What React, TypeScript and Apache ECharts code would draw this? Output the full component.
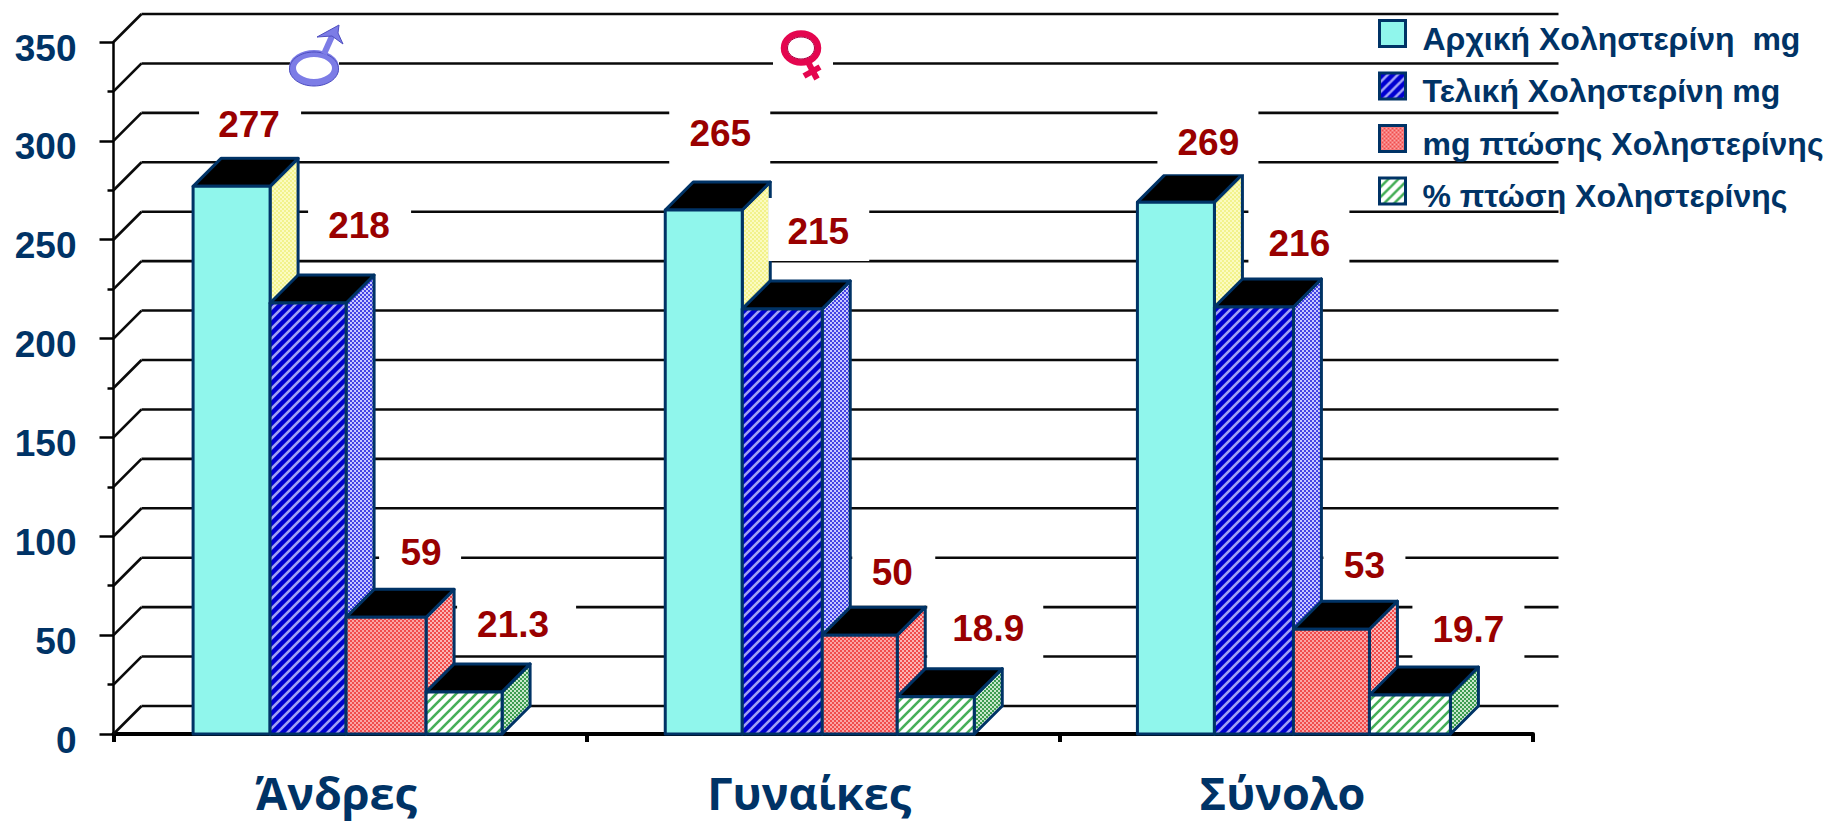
import React, { useEffect, useRef } from "react";
import * as echarts from "echarts";

// Values per group, in the order of the category axis
const categories = ["Άνδρες", "Γυναίκες", "Σύνολο"];
const initialCholesterol = [277, 265, 269];
const finalCholesterol = [218, 215, 216];
const dropMg = [59, 50, 53];
const dropPercent = [21.3, 18.9, 19.7];
const seriesNames = [
  "Αρχική Χοληστερίνη  mg",
  "Τελική Χοληστερίνη mg",
  "mg πτώσης Χοληστερίνης",
  "% πτώση Χοληστερίνης",
];
const wallLevels = [0, 25, 50, 75, 100, 125, 150, 175, 200, 225, 250, 275, 300, 325, 350];

// Bar edges relative to each band centre
const barEdges = [
  [-157, -80, -4, 76, 152],
  [-158, -81, -1, 74, 151],
  [-159, -82, -3, 73, 154],
];
// Value labels: dx from band centre, dy from bar top, white box width, box up, box down, box dx
const labelLayout = [
  [[-101, -62, 102, 32, 32, 1], [9, -77, 103, 32, 32, 0.5], [71, -65, 82, 32, 32, -1], [163, -67, 119, 32, 30, 3.5]],
  [[-103, -77, 101, 32, 33, -0.5], [-5, -77, 101, 34, 29, 0.5], [69, -63, 83, 32, 32, 1.5], [165, -68, 116, 32, 33, -3]],
  [[-88, -60, 101, 32, 32, -0.5], [3, -63, 101, 34, 21, -0.5], [68, -64, 82, 32, 32, 0], [172, -66, 112, 33, 33, 0]],
];

const DEPTH = 28;
const WALL_WIDTH = 1417;
const NAVY = "#003366";
const EDGE_WIDTH = 3;

function tile(size: number, draw: (c: CanvasRenderingContext2D) => void) {
  const canvas = document.createElement("canvas");
  canvas.width = size;
  canvas.height = size;
  draw(canvas.getContext("2d") as CanvasRenderingContext2D);
  return { image: canvas, repeat: "repeat" } as any;
}

function dotted(base: string, dot: string) {
  return tile(4, (c) => {
    c.fillStyle = base;
    c.fillRect(0, 0, 4, 4);
    c.fillStyle = dot;
    c.fillRect(0, 0, 2, 2);
    c.fillRect(2, 2, 2, 2);
  });
}

function hatched(base: string, stripe: string) {
  return tile(10, (c) => {
    c.fillStyle = base;
    c.fillRect(0, 0, 10, 10);
    c.strokeStyle = stripe;
    c.lineWidth = 2.6;
    for (const o of [-10, 0, 10, 20]) {
      c.beginPath();
      c.moveTo(o - 2, 12);
      c.lineTo(o + 12, -2);
      c.stroke();
    }
  });
}

function App() {
  const ref = useRef<HTMLDivElement>(null);

  useEffect(() => {
    const chart = echarts.init(ref.current as HTMLDivElement, undefined, { renderer: "svg" });

    const fronts = [
      "#90F6EC",
      hatched("#0000D0", "#A0A0F4"),
      dotted("#F04C4C", "#FBA4A4"),
      hatched("#FFFFFF", "#46AE58"),
    ];
    const sides = [
      dotted("#F2F28C", "#FBFBC0"),
      dotted("#4444E4", "#C8C8FF"),
      dotted("#F04C4C", "#FBB4B4"),
      dotted("#3C9C50", "#C8E8CC"),
    ];
    const seriesValues = [initialCholesterol, finalCholesterol, dropMg, dropPercent];

    const barSeries = seriesValues.map((values, s) => ({
      type: "custom",
      name: seriesNames[s],
      coordinateSystem: "cartesian2d",
      z: 3,
      itemStyle: { color: fronts[s] },
      encode: { x: 0, y: 1 },
      data: values.map((v, i) => [i, v]),
      renderItem: (_p: any, api: any) => {
        const cat = api.value(0);
        const top = api.coord([cat, api.value(1)]);
        const base = api.coord([cat, 0]);
        const x0 = top[0] + barEdges[cat][s];
        const x1 = top[0] + barEdges[cat][s + 1];
        const edge = { stroke: NAVY, lineWidth: EDGE_WIDTH, lineJoin: "round" };
        return {
          type: "group",
          children: [
            {
              type: "polygon",
              shape: { points: [[x1, top[1]], [x1 + DEPTH, top[1] - DEPTH], [x1 + DEPTH, base[1] - DEPTH], [x1, base[1]]] },
              style: { fill: sides[s], ...edge },
            },
            {
              type: "polygon",
              shape: { points: [[x0, top[1]], [x0 + DEPTH, top[1] - DEPTH], [x1 + DEPTH, top[1] - DEPTH], [x1, top[1]]] },
              style: { fill: "#000000", ...edge },
            },
            {
              type: "rect",
              shape: { x: x0, y: top[1], width: x1 - x0, height: base[1] - top[1] },
              style: { fill: fronts[s], ...edge },
            },
          ],
        };
      },
    }));

    // Value labels sit on white boxes that interrupt the wall lines
    const labelData: number[][] = [];
    seriesValues.forEach((values, s) => values.forEach((v, i) => labelData.push([i, v, s])));
    const labelSeries = {
      type: "custom",
      coordinateSystem: "cartesian2d",
      z: 4,
      silent: true,
      encode: { x: 0, y: 1 },
      data: labelData,
      renderItem: (_p: any, api: any) => {
        const cat = api.value(0);
        const value = api.value(1);
        const s = api.value(2);
        const [dx, dy, w, up, down, boxDx] = labelLayout[cat][s];
        const top = api.coord([cat, value]);
        const cx = top[0] + dx;
        const cy = top[1] + dy;
        return {
          type: "group",
          children: [
            {
              type: "rect",
              shape: { x: cx + boxDx - w / 2, y: cy - up, width: w, height: up + down },
              style: { fill: "#FFFFFF" },
            },
            {
              type: "text",
              style: {
                x: cx,
                y: cy,
                text: String(value),
                align: "center",
                verticalAlign: "middle",
                fill: "#990000",
                font: 'bold 37px "Liberation Sans"',
              },
            },
          ],
        };
      },
    };

    // Floor-to-wall connectors and horizontal wall lines
    const wallSeries = {
      type: "custom",
      coordinateSystem: "cartesian2d",
      z: 1,
      silent: true,
      encode: { y: 0 },
      data: wallLevels.map((v) => [v]),
      renderItem: (p: any, api: any) => {
        const y = api.coord([0, api.value(0)])[1];
        const x = p.coordSys.x;
        const line = { stroke: "#0A0A0A", lineWidth: 2.6 };
        return {
          type: "group",
          children: [
            { type: "line", shape: { x1: x, y1: y, x2: x + DEPTH, y2: y - DEPTH }, style: line },
            { type: "line", shape: { x1: x + DEPTH, y1: y - DEPTH, x2: x + DEPTH + WALL_WIDTH, y2: y - DEPTH }, style: line },
          ],
        };
      },
    };

    const blue = "#7C7CE6";
    const blueDark = "#4E4EC0";
    const rose = "#E4064F";
    const roseDark = "#A80040";

    chart.setOption({
      animation: false,
      backgroundColor: "#FFFFFF",
      grid: { left: 113.5, top: 42, width: 1419.5, height: 692, containLabel: false },
      legend: {
        show: true,
        data: seriesNames,
        orient: "vertical",
        left: 1378,
        top: 19,
        padding: 0,
        itemWidth: 26,
        itemHeight: 26,
        itemGap: 17,
        icon: "rect",
        selectedMode: false,
        itemStyle: { borderColor: NAVY, borderWidth: EDGE_WIDTH },
        formatter: "{n|{name}}",
        textStyle: {
          rich: {
            n: {
              color: NAVY,
              fontFamily: "Liberation Sans",
              fontWeight: "bold",
              fontSize: 32,
              padding: [10, 0, 0, 12],
            },
          },
        },
      },
      xAxis: {
        type: "category",
        data: categories,
        axisLine: { lineStyle: { color: "#000000", width: 4 } },
        axisTick: { show: true, length: 8, lineStyle: { color: "#000000", width: 4 } },
        axisLabel: {
          color: NAVY,
          fontFamily: "Open Sans",
          fontWeight: "bold",
          fontSize: 45,
          margin: 36,
          padding: [0, 28, 0, 0],
        },
      },
      yAxis: {
        type: "value",
        min: 0,
        max: 350,
        interval: 50,
        splitLine: { show: false },
        axisLine: { show: true, lineStyle: { color: "#000000", width: 2.5 } },
        axisTick: { show: true, length: 14, lineStyle: { color: "#000000", width: 2.5 } },
        minorTick: { show: true, splitNumber: 2, length: 6, lineStyle: { color: "#000000", width: 2.5 } },
        axisLabel: {
          color: NAVY,
          fontFamily: "Liberation Sans",
          fontWeight: "bold",
          fontSize: 37,
          margin: 37,
          verticalAlign: "top",
          lineHeight: 12,
        },
      },
      series: [wallSeries, ...barSeries, labelSeries],
      graphic: {
        elements: [
          // Male symbol
          { type: "rect", z: 10, shape: { x: 290, y: 25, width: 49, height: 60 }, style: { fill: "#FFFFFF" } },
          { type: "ellipse", z: 11, shape: { cx: 314, cy: 68, rx: 21.5, ry: 14.5 }, style: { fill: "none", stroke: blue, lineWidth: 7 } },
          { type: "ellipse", z: 11, shape: { cx: 314, cy: 69, rx: 24.5, ry: 17 }, style: { fill: "none", stroke: blueDark, lineWidth: 1 } },
          { type: "line", z: 11, shape: { x1: 324, y1: 54, x2: 333, y2: 34 }, style: { stroke: blue, lineWidth: 6 } },
          { type: "polygon", z: 11, shape: { points: [[339, 25], [338, 33], [343, 44], [332, 36], [317, 37]] }, style: { fill: blue, stroke: blueDark, lineWidth: 1 } },
          // Female symbol
          { type: "rect", z: 10, shape: { x: 773, y: 30, width: 60, height: 55 }, style: { fill: "#FFFFFF" } },
          { type: "ellipse", z: 11, shape: { cx: 801, cy: 48, rx: 17, ry: 14.5 }, style: { fill: "none", stroke: rose, lineWidth: 6.5 } },
          { type: "ellipse", z: 11, shape: { cx: 801, cy: 48, rx: 13.5, ry: 11 }, style: { fill: "none", stroke: roseDark, lineWidth: 1 } },
          { type: "line", z: 11, shape: { x1: 808, y1: 62, x2: 817, y2: 79 }, style: { stroke: rose, lineWidth: 6 } },
          { type: "line", z: 11, shape: { x1: 804, y1: 76, x2: 820, y2: 67 }, style: { stroke: rose, lineWidth: 6 } },
        ],
      },
    } as any);

    return () => chart.dispose();
  }, []);

  return (
    <div
      ref={ref}
      style={{ position: "fixed", left: 0, top: 0, width: 1827, height: 822, background: "#FFFFFF" }}
    />
  );
}

export default App;
